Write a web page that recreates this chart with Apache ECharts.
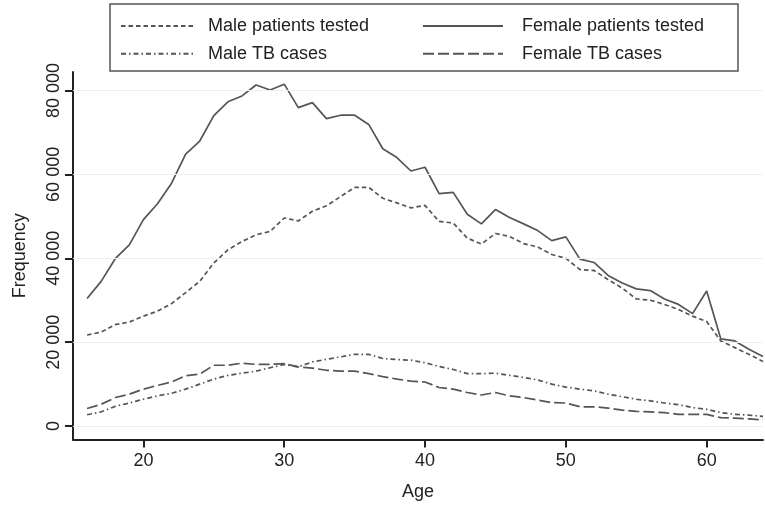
<!DOCTYPE html>
<html>
<head>
<meta charset="utf-8">
<script src="https://cdn.jsdelivr.net/npm/echarts@6/dist/echarts.min.js"></script>
<style>
  html, body { margin: 0; padding: 0; background: #fff; }
  #chart { width: 765px; height: 506px; }
</style>
</head>
<body>
<div id="chart"></div>
<script>
// ages 16..64
const ages = [];
for (let a = 16; a <= 64; a++) ages.push(a);

const maleTested = [21700, 22400, 24200, 24800, 26200, 27400, 29200, 31800, 34500, 38900,
  42000, 44000, 45600, 46400, 49600, 48900, 51200, 52500, 54700, 56900,
  56900, 54300, 53200, 52000, 52600, 48800, 48400, 44800, 43400, 45900,
  45200, 43500, 42700, 40900, 40000, 37300, 37100, 34900, 32900, 30300,
  30000, 29000, 27800, 26200, 24900, 20300, 18700, 17100, 15400];
const femaleTested = [30400, 34500, 39900, 43200, 49200, 53000, 57900, 64800, 67950, 74000,
  77300, 78700, 81300, 80100, 81500, 75900, 77100, 73300, 74100, 74100,
  71900, 66100, 64000, 60800, 61700, 55400, 55700, 50500, 48200, 51600,
  49700, 48200, 46600, 44200, 45100, 39800, 39000, 35900, 34100, 32700,
  32300, 30300, 29000, 26800, 32200, 20800, 20300, 18300, 16600];
const maleTB = [2700, 3400, 4700, 5500, 6400, 7200, 7800, 8800, 10000, 11200,
  12100, 12600, 13100, 13900, 14700, 14100, 15300, 15900, 16500, 17100,
  17100, 16100, 15850, 15700, 15100, 14200, 13500, 12500, 12500, 12600,
  12100, 11600, 11000, 10000, 9300, 8800, 8400, 7600, 7000, 6400,
  6000, 5500, 5100, 4400, 4000, 3200, 2800, 2600, 2300];
const femaleTB = [4200, 5200, 6800, 7600, 8800, 9700, 10500, 12000, 12400, 14500,
  14500, 15000, 14700, 14700, 14900, 14100, 13800, 13300, 13100, 13100,
  12500, 11800, 11200, 10700, 10500, 9200, 8800, 8000, 7400, 8000,
  7200, 6800, 6200, 5600, 5500, 4600, 4600, 4300, 3800, 3500,
  3400, 3200, 2800, 2800, 2800, 2000, 1900, 1700, 1500];

const xTicks = [20, 30, 40, 50, 60];
const yTicks = [0, 20000, 40000, 60000, 80000];

const chart = echarts.init(document.getElementById('chart'));

const lineColor = '#555';
const font = 'Liberation Sans, Arial, sans-serif';

function pairs(vals) {
  return ages.map((a, i) => [a, vals[i]]);
}

function makeSeries(name, vals, type) {
  return {
    name: name,
    type: 'line',
    data: pairs(vals),
    symbol: 'none',
    lineStyle: { color: lineColor, width: 1.7, type: type },
    itemStyle: { color: lineColor },
    emphasis: { disabled: true },
    silent: true
  };
}

const series = [
  makeSeries('Male patients tested', maleTested, [4.5, 3]),
  makeSeries('Female patients tested', femaleTested, 'solid'),
  makeSeries('Male TB cases', maleTB, [5, 3, 1.5, 3]),
  makeSeries('Female TB cases', femaleTB, [11, 4])
];

// faint horizontal grid lines at the labelled ticks
series[0].markLine = {
  silent: true,
  symbol: 'none',
  label: { show: false },
  lineStyle: { color: '#efefef', width: 1, type: 'solid' },
  data: yTicks.map(v => ({ yAxis: v }))
};

function legendText(gap) {
  return { fontFamily: font, fontSize: 18, lineHeight: 18, color: '#222', padding: [0, 0, 0, gap] };
}

const options = {
  animation: false,
  backgroundColor: '#fff',
  grid: { left: 73, right: 2, top: 72, bottom: 66.5, containLabel: false, outerBoundsMode: 'none' },
  graphic: [{
    type: 'rect',
    shape: { x: 110, y: 4, width: 628, height: 67 },
    style: { fill: '#fff', stroke: '#555', lineWidth: 1.5 },
    z: 0
  }],
  legend: [
    {
      data: ['Male patients tested', 'Male TB cases'],
      orient: 'vertical',
      left: 120, top: 17, padding: 0,
      itemWidth: 75, itemHeight: 18, itemGap: 9.7,
      itemStyle: { opacity: 0 },
      textStyle: legendText(7),
      selectedMode: false
    },
    {
      data: ['Female patients tested', 'Female TB cases'],
      orient: 'vertical',
      left: 422, top: 17, padding: 0,
      itemWidth: 80, itemHeight: 18, itemGap: 9.7,
      itemStyle: { opacity: 0 },
      textStyle: legendText(14),
      selectedMode: false
    }
  ],
  xAxis: {
    type: 'value',
    min: 15,
    max: 64,
    name: 'Age',
    nameLocation: 'middle',
    nameGap: 44,
    nameTextStyle: { fontFamily: font, fontSize: 18, color: '#222' },
    axisLine: { onZero: false, lineStyle: { color: '#222', width: 2 } },
    axisTick: { length: 8, lineStyle: { color: '#222', width: 2 }, customValues: xTicks },
    axisLabel: { fontFamily: font, fontSize: 18, color: '#222', margin: 13, customValues: xTicks },
    splitLine: { show: false }
  },
  yAxis: {
    type: 'value',
    min: -3200,
    max: 84400,
    name: 'Frequency',
    nameLocation: 'middle',
    nameGap: 44,
    nameRotate: 90,
    nameTextStyle: { fontFamily: font, fontSize: 18, color: '#222' },
    axisLine: { show: true, onZero: false, lineStyle: { color: '#222', width: 2 } },
    axisTick: { show: true, length: 8, lineStyle: { color: '#222', width: 2 }, customValues: yTicks },
    axisLabel: {
      fontFamily: font, fontSize: 18, color: '#222', rotate: 90, margin: 10,
      customValues: yTicks,
      formatter: v => String(v).replace(/\B(?=(\d{3})+(?!\d))/g, ' ')
    },
    splitLine: { show: false }
  },
  series: series
};

chart.setOption(options);
</script>
</body>
</html>
